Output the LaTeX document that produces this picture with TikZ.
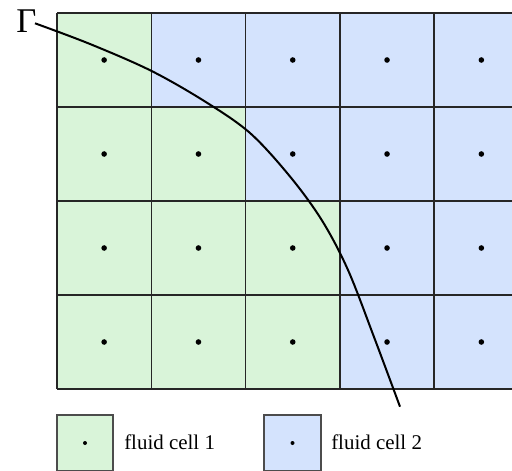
\documentclass[tikz,border=0pt]{standalone}
\usepackage{fontspec}
\setmainfont{Liberation Serif}
\definecolor{gfill}{HTML}{D9F4D9}
\definecolor{bfill}{HTML}{D4E3FD}
\begin{document}
\begin{tikzpicture}[x=0.75pt,y=-0.75pt,
  gridline/.style={draw=black!85,line width=1.1pt},
  cellg/.style={fill=gfill},
  cellb/.style={fill=bfill},
  cdot/.style={fill=black,draw=none},
  legbox/.style={draw=black!70,line width=1pt},
  legtext/.style={font=\fontsize{15.7pt}{18pt}\selectfont,anchor=base west,inner sep=0pt}]
\useasboundingbox (0,0) rectangle (512,471);
\def\cw{94.3}
\def\ch{94}
\begin{scope}
\clip (0,0) rectangle (512,400);
% fills: row r (0..3), col c (0..4)
\foreach \r/\c/\s in {0/0/cellg,0/1/cellb,0/2/cellb,0/3/cellb,0/4/cellb,
                      1/0/cellg,1/1/cellg,1/2/cellb,1/3/cellb,1/4/cellb,
                      2/0/cellg,2/1/cellg,2/2/cellg,2/3/cellb,2/4/cellb,
                      3/0/cellg,3/1/cellg,3/2/cellg,3/3/cellb,3/4/cellb}{
  \path[\s] ({57+\c*\cw},{13+\r*\ch}) rectangle ({57+(\c+1)*\cw},{13+(\r+1)*\ch});
  \fill[cdot] ({57+(\c+0.5)*\cw},{13+(\r+0.5)*\ch}) circle (2.8);
}
\foreach \c in {0,...,5}{
  \draw[gridline] ({57+\c*\cw},13) -- ({57+\c*\cw},{13+4*\ch});
}
\foreach \r in {0,...,4}{
  \draw[gridline] (57,{13+\r*\ch}) -- (540,{13+\r*\ch});
}
\end{scope}
% interface curve
\node[font=\fontsize{26pt}{28pt}\selectfont,anchor=base west,inner sep=0pt] (gamma) at (16,32) {Γ};
\draw[line width=1.5pt] plot[smooth,tension=0.55] coordinates
  {(35,23.3) (90,44) (151,70.7) (205,101.5) (250,133) (290,176.5) (322,220.5) (348,270) (374,337) (400,406.7)};
% legend
\draw[legbox,fill=gfill] (57,415) rectangle (113,471);
\fill[cdot] (85,443) circle (2);
\node[legtext] (l1) at (124,450) {fluid cell 1};
\draw[legbox,fill=bfill] (264,415) rectangle (321,471);
\fill[cdot] (292.5,443) circle (2);
\node[legtext] (l2) at (331,450) {fluid cell 2};
\end{tikzpicture}
\end{document}
